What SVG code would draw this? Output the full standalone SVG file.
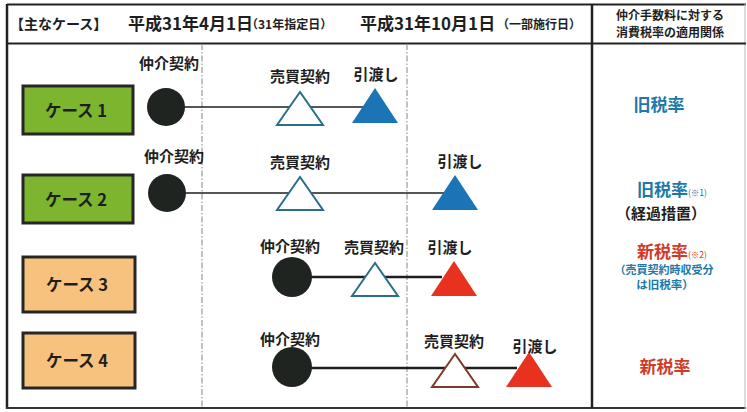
<svg xmlns="http://www.w3.org/2000/svg" width="747" height="412" viewBox="0 0 747 412">
<style>
text{font-family:"Noto Sans CJK JP","Noto Sans CJK SC",sans-serif;font-weight:bold;fill:#1e1e1e}
.lbl{font-size:15px;text-anchor:middle}
.case{font-size:16.5px;text-anchor:middle}
.boxg{fill:#7db52f;stroke:#262626;stroke-width:3}
.boxo{fill:#f6c27d;stroke:#262626;stroke-width:3}
.dot{fill:#1f2421}
.tw{fill:#fff;stroke:#2a6f8a;stroke-width:2}
.twb{fill:#fff;stroke:#7b3a2a;stroke-width:2}
.tb{fill:#1a74b6}
.tr{fill:#e8321f}
.dash{stroke:#9a9a9a;stroke-width:1.2;stroke-dasharray:6 2 1.5 2;fill:none}
.old{fill:#2178a8}
.new{fill:#cf3b27}
</style>
<rect x="0" y="0" width="747" height="412" fill="#fff"/>
<g id="frame" fill="none">
<line x1="7" y1="4.5" x2="746" y2="4.5" stroke="#222" stroke-width="2"/>
<line x1="7" y1="4" x2="7" y2="409" stroke="#222" stroke-width="2.5"/>
<line x1="6" y1="408" x2="746" y2="408" stroke="#333" stroke-width="2"/>
<line x1="745" y1="4" x2="745" y2="409" stroke="#bbb" stroke-width="1"/>
<line x1="7" y1="43.5" x2="746" y2="43.5" stroke="#222" stroke-width="2"/>
<line x1="592" y1="4" x2="592" y2="408" stroke="#222" stroke-width="2.5"/>
<line class="dash" x1="202" y1="44" x2="202" y2="408"/>
<line class="dash" x1="407" y1="44" x2="407" y2="408"/>
</g>
<g id="header">
<text x="10" y="29" font-size="14">【主なケース】</text>
<text x="128" y="30" font-size="17">平成31年4月1日</text>
<text x="246" y="29" font-size="12">（31年指定日）</text>
<text x="360" y="30" font-size="17">平成31年10月1日</text>
<text x="497" y="29" font-size="12">（一部施行日）</text>
<text x="670" y="20" font-size="12" text-anchor="middle">仲介手数料に対する</text>
<text x="670" y="37" font-size="12" text-anchor="middle">消費税率の適用関係</text>
</g>
<g id="connectors" stroke="#1e1e1e">
<line x1="184" y1="107" x2="366" y2="107" stroke-width="1.5"/>
<line x1="185" y1="193" x2="446" y2="193" stroke-width="1.5"/>
<line x1="310" y1="277" x2="442" y2="277" stroke-width="2.5"/>
<line x1="310" y1="368" x2="517" y2="368" stroke-width="2.5"/>
</g>
<g id="case1">
<rect class="boxg" x="23" y="86" width="110" height="48"/>
<text class="case" x="76" y="117">ケース 1</text>
</g>
<g id="case2">
<rect class="boxg" x="23" y="175" width="110" height="48"/>
<text class="case" x="76" y="206">ケース 2</text>
</g>
<g id="case3">
<rect class="boxo" x="23" y="257" width="112" height="55"/>
<text class="case" x="77" y="291">ケース 3</text>
</g>
<g id="case4">
<rect class="boxo" x="23" y="333" width="112" height="55"/>
<text class="case" x="77" y="367">ケース 4</text>
</g>
<g id="c1-broker">
<circle class="dot" cx="166" cy="107" r="19"/>
<text class="lbl" x="169" y="69">仲介契約</text>
</g>
<g id="c1-sale">
<polygon class="tw" points="300,92 277,125 323,125"/>
<text class="lbl" x="300" y="82">売買契約</text>
</g>
<g id="c1-delivery">
<polygon class="tb" points="375,88 352,123 398,123"/>
<text class="lbl" x="376" y="80">引渡し</text>
</g>
<g id="c2-broker">
<circle class="dot" cx="167" cy="193" r="19"/>
<text class="lbl" x="174" y="162">仲介契約</text>
</g>
<g id="c2-sale">
<polygon class="tw" points="300,177 277,210 323,210"/>
<text class="lbl" x="300" y="168">売買契約</text>
</g>
<g id="c2-delivery">
<polygon class="tb" points="455,175 432,210 478,210"/>
<text class="lbl" x="460" y="167">引渡し</text>
</g>
<g id="c3-broker">
<circle class="dot" cx="292" cy="277" r="20"/>
<text class="lbl" x="290" y="252">仲介契約</text>
</g>
<g id="c3-sale">
<polygon class="tw" points="375,263 352,296 398,296"/>
<text class="lbl" x="374" y="253">売買契約</text>
</g>
<g id="c3-delivery">
<polygon class="tr" points="454,261 431,296 477,296"/>
<text class="lbl" x="450" y="253">引渡し</text>
</g>
<g id="c4-broker">
<circle class="dot" cx="292" cy="367" r="20"/>
<text class="lbl" x="290" y="345">仲介契約</text>
</g>
<g id="c4-sale">
<polygon class="twb" points="455,354 432,387 478,387"/>
<text class="lbl" x="454" y="347">売買契約</text>
</g>
<g id="c4-delivery">
<polygon class="tr" points="529,352 506,387 552,387"/>
<text class="lbl" x="535" y="352">引渡し</text>
</g>
<g id="rate1">
<text class="old" x="659" y="111" font-size="17" text-anchor="middle">旧税率</text>
</g>
<g id="rate2">
<text class="old" x="637" y="196" font-size="17">旧税率<tspan font-size="8.5" font-weight="normal">(※1)</tspan></text>
<text x="661" y="219" font-size="15" text-anchor="middle">（経過措置）</text>
</g>
<g id="rate3">
<text class="new" x="637" y="258" font-size="17">新税率<tspan font-size="8.5" font-weight="normal">(※2)</tspan></text>
<text class="old" x="664" y="274" font-size="11" text-anchor="middle">（売買契約時収受分</text>
<text class="old" x="665" y="289" font-size="11.5" text-anchor="middle">は旧税率）</text>
</g>
<g id="rate4">
<text class="new" x="665" y="373" font-size="17" text-anchor="middle">新税率</text>
</g>
</svg>
